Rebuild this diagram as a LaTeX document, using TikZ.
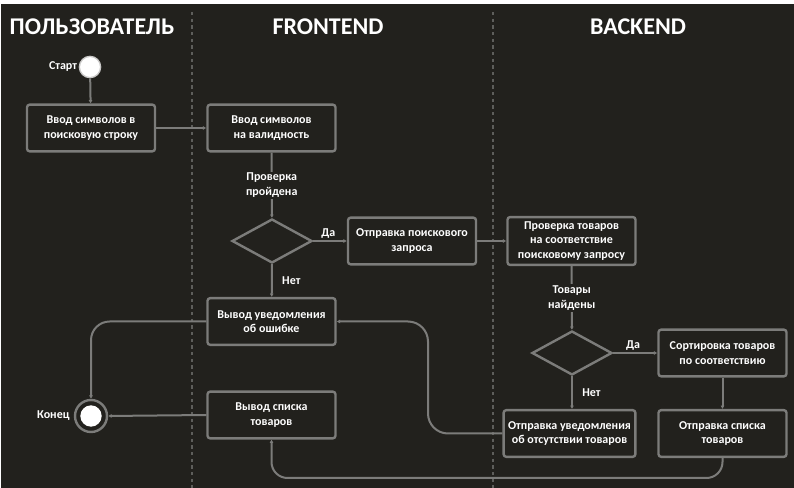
\documentclass[tikz,border=0pt]{standalone}
\usepackage{fontspec}
\setmainfont{Carlito}
\usetikzlibrary{arrows.meta,shapes.geometric}
\definecolor{bgdark}{HTML}{22211D}
\definecolor{linegray}{HTML}{7C7C7A}
\definecolor{lanegray}{HTML}{5E5E5B}

\begin{document}
\begin{tikzpicture}[x=0.75pt,y=-0.75pt,
	box/.style={draw=linegray, line width=1.8pt, rounded corners=2pt,
		fill=bgdark, minimum width=96pt, minimum height=35pt,
		align=center, text=white,
		font=\bfseries\fontsize{9pt}{11pt}\selectfont},
	decision/.style={diamond, draw=linegray, line width=1.8pt,
		fill=bgdark, minimum width=60pt, minimum height=33pt, inner sep=0pt},
	lbl/.style={text=white, align=center, inner sep=1pt,
		font=\bfseries\fontsize{9pt}{11pt}\selectfont},
	title/.style={text=white, font=\bfseries\fontsize{18pt}{20pt}\selectfont},
	flow/.style={draw=linegray, line width=1.5pt,
		-{Latex[length=2.5pt,width=3pt]}},
	lane/.style={draw=lanegray, line width=1.5pt, dash pattern=on 2.5pt off 2.5pt}]

\useasboundingbox (0,0) rectangle (794,488);
\fill[white] (0,0) rectangle (794,488);
\fill[bgdark] (1,4) rectangle (794,488);

% lanes
\draw[lane] (192,12) -- (192,488);
\draw[lane] (493,12) -- (493,488);
\node[title] (tuser) at (92,27) {ПОЛЬЗОВАТЕЛЬ};
\node[title] (tfront) at (328,27) {FRONTEND};
\node[title] (tback) at (638,27) {BACKEND};

% user lane
\node[circle, fill=white, draw=white!75!bgdark, line width=1pt,
	minimum size=16pt, inner sep=0pt] (start) at (90,67) {};
\node[lbl, anchor=east] (lstart) at (start.west) {Старт};
\node[box] (b1) at (91,128) {Ввод символов в\\поисковую строку};
\node[circle, draw=linegray, line width=1.8pt, fill=bgdark,
	minimum size=24pt, inner sep=0pt] (end) at (91,416) {};
\node[circle, fill=white, minimum size=16pt, inner sep=0pt] (endcore) at (end) {};
\node[lbl, anchor=east] (lend) at ([xshift=-2pt]end.west) {Конец};

% frontend lane
\node[box] (b2) at (271.5,128) {Ввод символов\\на валидность};
\node[decision] (d1) at (272,241) {};
\node[box] (b3) at (412,241) {Отправка поискового\\запроса};
\node[box] (b4) at (271.5,321.5) {Вывод уведомления\\об ошибке};
\node[box] (b5) at (271.5,415) {Вывод списка\\товаров};

% backend lane
\node[box] (b6) at (571.5,241) {Проверка товаров\\на соответствие\\поисковому запросу};
\node[decision] (d2) at (572,353) {};
\node[box] (b7) at (722.5,353) {Сортировка товаров\\по соответствию};
\node[box] (b8) at (569.5,433.5) {Отправка уведомления\\об отсутствии товаров};
\node[box] (b9) at (722.5,433.5) {Отправка списка\\товаров};

\coordinate (bend1) at (428,321.5);
\coordinate (bend2) at (500,478);

\draw[flow] (start) -- (b1);
\draw[flow] (b1) -- (b2);
\draw[flow] (b2) -- node[lbl, fill=bgdark] (q1) {Проверка\\пройдена} (d1);
\draw[flow] (d1.east) -- node[lbl, above, pos=0.45] (yes1) {Да} (b3);
\draw[flow] (d1.south) -- node[lbl, right=6pt] (no1) {Нет} (b4);
\draw[flow] (b3) -- (b6);
\draw[flow] (b6) -- node[lbl, fill=bgdark] (q2) {Товары\\найдены} (d2);
\draw[flow] (d2.east) -- node[lbl, above, pos=0.45] (yes2) {Да} (b7);
\draw[flow] (d2.south) -- node[lbl, right=6pt] (no2) {Нет} (d2.south |- b8.north);
\draw[flow] (b7) -- (b9);
\draw[flow, rounded corners=15pt] (b8.west) -| (bend1) -- (b4.east);
\draw[flow, rounded corners=14pt] (b4.west) -| (end.north);
\draw[flow] (b5.west) -- (end.east);
\draw[flow, rounded corners=12pt] (b9.south) |- (bend2) -| (b5.south);

\end{tikzpicture}
\end{document}
